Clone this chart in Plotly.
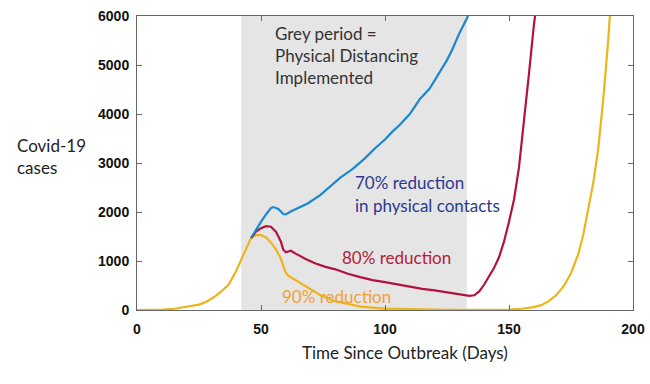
import plotly.graph_objects as go

# ---- data ----
yellow_days = [0, 5, 10, 15, 20, 25, 28, 31, 34, 37, 40, 42, 44, 46, 48, 50, 52, 54, 56, 58, 59, 60, 61, 63, 66, 70, 74, 80, 90, 100, 110, 120, 130, 140, 150, 155, 160, 163, 166, 169, 172, 175, 178, 180, 182, 184, 186, 188, 190, 192]
yellow_vals = [0, 2, 8, 25, 60, 110, 170, 260, 380, 520, 800, 1020, 1260, 1470, 1530, 1530, 1480, 1380, 1240, 1050, 900, 760, 700, 640, 540, 420, 300, 180, 70, 30, 15, 8, 5, 5, 10, 25, 60, 100, 180, 300, 480, 750, 1150, 1550, 2050, 2600, 3300, 4300, 5500, 7000]

blue_days = [46, 48, 50, 52, 54, 55, 57, 59, 60, 62, 65, 69, 74, 78, 82, 87, 92, 96, 100, 103, 106, 110, 114, 118, 122, 125, 127, 130, 133, 135]
blue_vals = [1470, 1650, 1800, 1950, 2080, 2100, 2060, 1960, 1950, 2010, 2080, 2180, 2350, 2520, 2700, 2880, 3100, 3300, 3480, 3640, 3780, 4000, 4300, 4520, 4850, 5100, 5300, 5650, 5950, 6200]

red_days = [46, 48, 50, 52, 54, 56, 58, 59, 60, 62, 64, 68, 72, 76, 80, 85, 90, 95, 100, 105, 110, 115, 120, 125, 130, 134, 136, 138, 140, 142, 144, 146, 148, 150, 152, 154, 156, 158, 160, 161]
red_vals = [1470, 1600, 1670, 1710, 1700, 1600, 1400, 1230, 1180, 1210, 1150, 1040, 950, 880, 830, 740, 670, 610, 570, 520, 470, 430, 400, 360, 320, 290, 300, 380, 520, 680, 860, 1080, 1400, 1800, 2250, 2900, 3800, 4800, 5800, 6200]

grey_start, grey_end = 42, 133
x_ticks = [0, 50, 100, 150, 200]
y_ticks = [0, 1000, 2000, 3000, 4000, 5000, 6000]

BLUE = "#1a87cf"
RED = "#b0133d"
YELLOW = "#edb41c"
TXT = "Lato"

fig = go.Figure()
fig.add_shape(type="rect", xref="x", yref="paper", x0=grey_start, x1=grey_end, y0=0, y1=1,
              fillcolor="#e5e5e5", line_width=0, layer="below")

fig.add_trace(go.Scatter(x=yellow_days, y=yellow_vals, mode="lines", line=dict(color=YELLOW, width=2.2), showlegend=False))
fig.add_trace(go.Scatter(x=red_days, y=red_vals, mode="lines", line=dict(color=RED, width=2.2), showlegend=False))
fig.add_trace(go.Scatter(x=blue_days, y=blue_vals, mode="lines", line=dict(color=BLUE, width=2.2), showlegend=False))

anns = [
    dict(text="Grey period =", x=54.8, y=5650, color="#333333"),
    dict(text="Physical Distancing", x=54.8, y=5200, color="#333333"),
    dict(text="Implemented", x=54.8, y=4750, color="#333333"),
    dict(text="70% reduction", x=87, y=2610, color="#2b3990"),
    dict(text="in physical contacts", x=87, y=2140, color="#2b3990"),
    dict(text="80% reduction", x=82, y=1080, color="#b52134"),
    dict(text="90% reduction", x=57.7, y=285, color="#f5a033"),
]
for a in anns:
    fig.add_annotation(text=a["text"], x=a["x"], y=a["y"], xref="x", yref="y",
                       xanchor="left", yanchor="middle", showarrow=False,
                       font=dict(family=TXT, size=17, color=a["color"]))

fig.add_annotation(text="Time Since Outbreak (Days)", x=0.54, y=-0.143, xref="paper", yref="paper",
                   xanchor="center", yanchor="middle", showarrow=False,
                   font=dict(family=TXT, size=17, color="#222222"))
fig.add_annotation(text="Covid-19", x=-0.246, y=0.561, xref="paper", yref="paper",
                   xanchor="left", yanchor="middle", showarrow=False,
                   font=dict(family=TXT, size=17, color="#222222"))
fig.add_annotation(text="cases", x=-0.246, y=0.486, xref="paper", yref="paper",
                   xanchor="left", yanchor="middle", showarrow=False,
                   font=dict(family=TXT, size=17, color="#222222"))

axis_common = dict(showgrid=False, zeroline=False, showline=True, linecolor="#666666", linewidth=1,
                   mirror="ticks", ticks="inside", ticklen=5, tickcolor="#666666", automargin=False,
                   tickfont=dict(family="Liberation Sans", size=14, color="#111111", weight="bold"))

fig.update_xaxes(range=[0, 200], tickvals=x_ticks, ticklabelstandoff=6, **axis_common)
fig.update_yaxes(range=[0, 6000], tickvals=y_ticks, ticklabelstandoff=4, **axis_common)

fig.update_layout(width=650, height=384, margin=dict(l=137, r=17, t=16, b=74),
                  plot_bgcolor="white", paper_bgcolor="white")

fig.write_html("out.html", config={"displayModeBar": False},
               post_script="document.body.style.margin='0';document.body.style.padding='0';")
